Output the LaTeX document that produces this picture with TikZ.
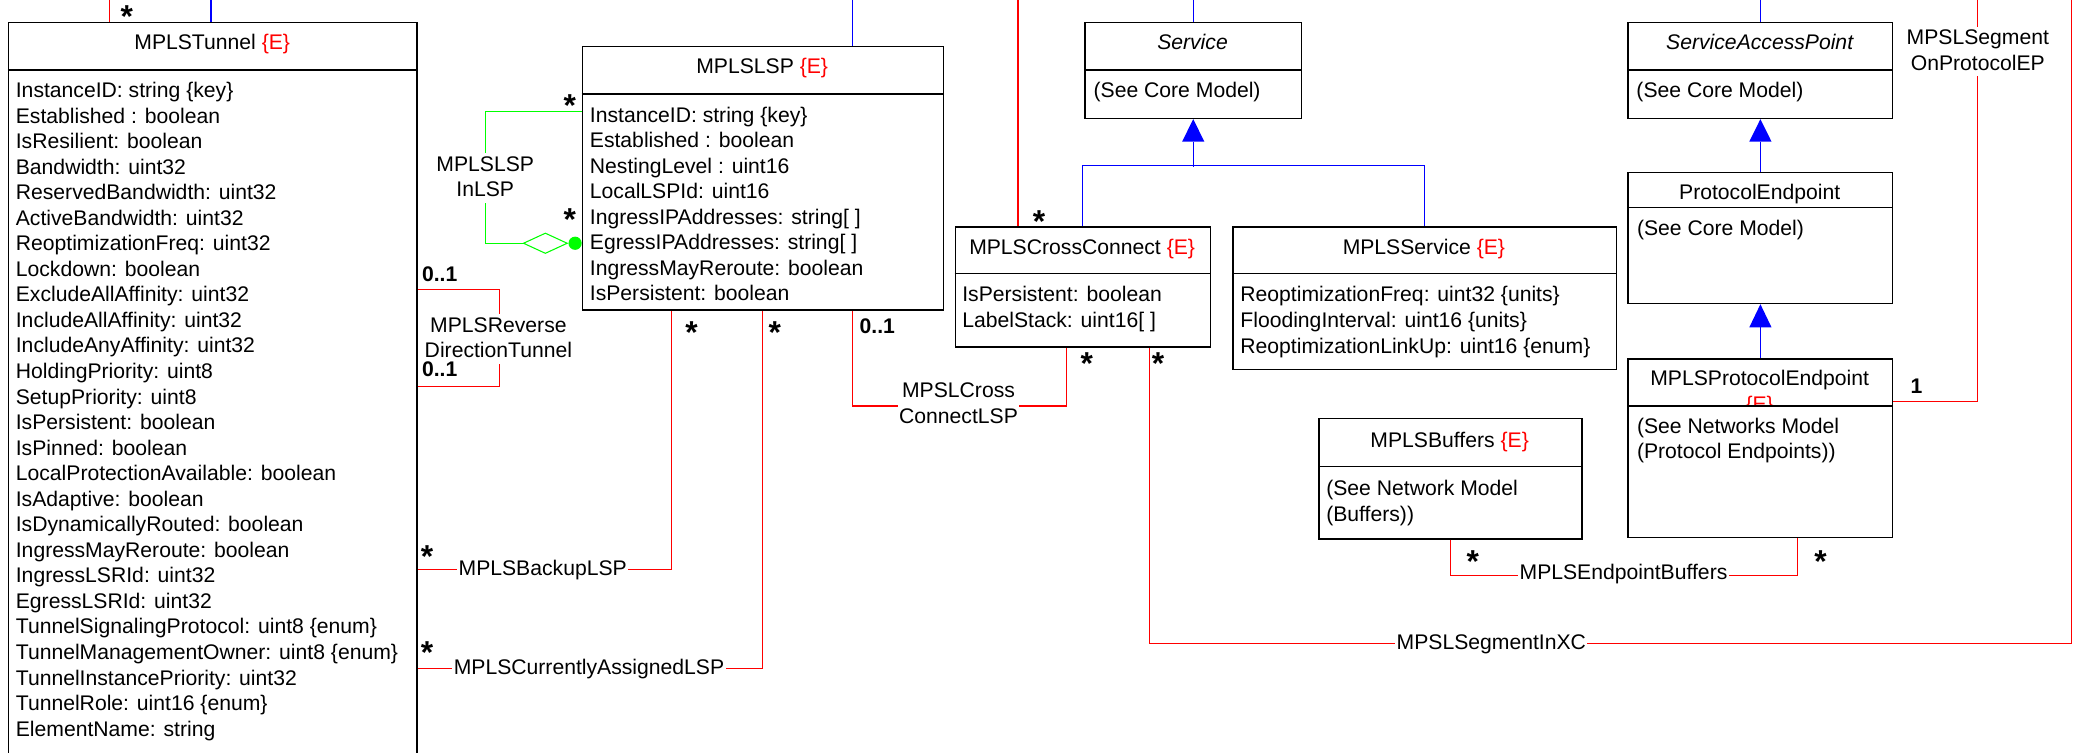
\documentclass[tikz,border=0pt]{standalone}
\usepackage{fontspec}
\setmainfont{Liberation Sans}
\usetikzlibrary{calc}
\definecolor{umlgreen}{RGB}{0,255,0}
\newcommand\redE{\textcolor{red}{\{E\}}}
\newcommand\fst{\rule{0pt}{12.5pt}}
\newcommand\lstr{\rule[-3.5pt]{0pt}{16pt}}
\begin{document}
\begin{tikzpicture}[x=1pt,y=-1pt,
  every node/.style={font=\fontsize{16}{19.32}\selectfont, inner sep=0pt},
  cls/.style={draw=black, line width=1.1pt, fill=white, anchor=north west, inner sep=0pt},
  sepl/.style={line width=1.1pt},
  attrs/.style={anchor=north west, align=left},
  ttl/.style={anchor=base, yshift=-5.6pt},
  assoc/.style={draw=red, line width=0.8pt},
  agg/.style={draw=umlgreen, line width=0.8pt},
  gen/.style={draw=blue, line width=0.8pt},
  lab/.style={fill=white, inner xsep=1pt, inner ysep=1pt, align=center},
  mult/.style={font=\fontsize{24}{24}\selectfont\bfseries, anchor=base, yshift=-13pt},
  card/.style={font=\fontsize{16}{16}\selectfont\bfseries, anchor=base west, yshift=-5.6pt},
]
\useasboundingbox (0,0) rectangle (1568,569);
\clip (0,0) rectangle (1568,569);

% ---------- classes ----------
\node[cls, minimum width=309pt, minimum height=620pt] (tunnel) at (6,16.5) {};
\draw[sepl] (tunnel.west |- 0,53) -- (tunnel.east |- 0,53);
\node[ttl] (tunnelT) at (160.5,32) {MPLSTunnel \redE};
\node[attrs] (tunnelA) at (11.8,61.1) {\fst InstanceID: string \{key\}\\
Established : boolean\\
IsResilient: boolean\\
Bandwidth: uint32\\
ReservedBandwidth: uint32\\
ActiveBandwidth: uint32\\
ReoptimizationFreq: uint32\\
Lockdown: boolean\\
ExcludeAllAffinity: uint32\\
IncludeAllAffinity: uint32\\
IncludeAnyAffinity: uint32\\
HoldingPriority: uint8\\
SetupPriority: uint8\\
IsPersistent: boolean\\
IsPinned: boolean\\
LocalProtectionAvailable: boolean\\
IsAdaptive: boolean\\
IsDynamicallyRouted: boolean\\
IngressMayReroute: boolean\\
IngressLSRId: uint32\\
EgressLSRId: uint32\\
TunnelSignalingProtocol: uint8 \{enum\}\\
TunnelManagementOwner: uint8 \{enum\}\\
TunnelInstancePriority: uint32\\
TunnelRole: uint16 \{enum\}\\
ElementName: string};

\node[cls, minimum width=273pt, minimum height=199.4pt] (lsp) at (440,34.6) {};
\draw[sepl] (lsp.west |- 0,71) -- (lsp.east |- 0,71);
\node[ttl] (lspT) at (576.5,49.7) {MPLSLSP \redE};
\node[attrs] (lspA) at (446,79.6) {\fst InstanceID: string \{key\}\\
Established : boolean\\
NestingLevel : uint16\\
LocalLSPId: uint16\\
IngressIPAddresses: string[ ]\\
EgressIPAddresses: string[ ]\\
IngressMayReroute: boolean\\
IsPersistent: boolean};

\node[cls, minimum width=164pt, minimum height=72.6pt] (service) at (820,16.4) {};
\draw[sepl] (service.west |- 0,53) -- (service.east |- 0,53);
\node[ttl] (serviceT) at (902,32) {\itshape Service};
\node[attrs] (serviceA) at (827,61.1) {\fst (See Core Model)};

\node[cls, minimum width=200pt, minimum height=72.6pt] (sap) at (1231,16.4) {};
\draw[sepl] (sap.west |- 0,53) -- (sap.east |- 0,53);
\node[ttl] (sapT) at (1331,32) {\itshape ServiceAccessPoint};
\node[attrs] (sapA) at (1237.6,61.1) {\fst (See Core Model)};

\node[cls, minimum width=200pt, minimum height=99pt] (pe) at (1231,130) {};
\draw[sepl] (pe.west |- 0,157) -- (pe.east |- 0,157);
\node[ttl] (peT) at (1331,145.5) {ProtocolEndpoint};
\node[attrs] (peA) at (1238,165.8) {\fst (See Core Model)};

\node[cls, minimum width=200pt, minimum height=135pt] (mplspe) at (1231,271) {};
\begin{scope}
  \clip (mplspe.north west) rectangle ($(mplspe.north east)+(0,36)$);
  \node[anchor=north, align=center] (mplspeT) at (1331,279.1) {\fst MPLSProtocolEndpoint\\ \redE};
\end{scope}
\draw[sepl] (mplspe.west |- 0,307) -- (mplspe.east |- 0,307);
\node[attrs] (mplspeA) at (1238,315.1) {\fst (See Networks Model\\ (Protocol Endpoints))};

\node[cls, minimum width=193pt, minimum height=91pt] (xc) at (722,171) {};
\draw[sepl] (xc.west |- 0,207) -- (xc.east |- 0,207);
\node[ttl] (xcT) at (818.5,186.6) {MPLSCrossConnect \redE};
\node[attrs] (xcA) at (727.7,215.7) {\fst IsPersistent: boolean\\ LabelStack: uint16[ ]};

\node[cls, minimum width=290pt, minimum height=108pt] (svc) at (932,171) {};
\draw[sepl] (svc.west |- 0,207) -- (svc.east |- 0,207);
\node[ttl] (svcT) at (1077,186.6) {MPLSService \redE};
\node[attrs] (svcA) at (938,215.7) {\fst ReoptimizationFreq: uint32 \{units\}\\
FloodingInterval: uint16 \{units\}\\
ReoptimizationLinkUp: uint16 \{enum\}};

\node[cls, minimum width=199pt, minimum height=91pt] (buf) at (997,316) {};
\draw[sepl] (buf.west |- 0,353) -- (buf.east |- 0,353);
\node[ttl] (bufT) at (1096.5,333) {MPLSBuffers \redE};
\node[attrs] (bufA) at (1003,362.1) {\fst (See Network Model\\ (Buffers))};

% ---------- free ends at the picture edge ----------
\coordinate (top1) at (82.6,0);
\coordinate (top2) at (159.6,0);
\coordinate (top3) at (644.5,0);
\coordinate (top4) at (770,0);
\coordinate (top7) at (1496,0);
\coordinate (top8) at (1567,0);

\draw[assoc] (top1) -- (top1 |- tunnel.north);
\draw[gen] (top2) -- (top2 |- tunnel.north);
\draw[gen] (top3) -- (top3 |- lsp.north);
\draw[assoc] (top4) -- (top4 |- xc.north);
\draw[gen] (service.north) -- (service.north |- top1);
\draw[gen] (sap.north) -- (sap.north |- top1);
\node[mult] (s0) at (96,7.6) {*};
\node[mult] (s1) at (786,163) {*};

% ---------- generalizations ----------
\fill[blue] (service.south) -- ++(-8.4,17) -- ++(16.8,0) -- cycle;
\draw[gen] ($(service.south)+(0,17)$) -- ($(service.south)+(0,36)$);
\draw[gen] (xc.north) -- ++(0,-46) -| (svc.north);
\fill[blue] (sap.south) -- ++(-8.4,17) -- ++(16.8,0) -- cycle;
\draw[gen] ($(sap.south)+(0,17)$) -- (pe.north);
\fill[blue] (pe.south) -- ++(-8.4,17.5) -- ++(16.8,0) -- cycle;
\draw[gen] ($(pe.south)+(0,17.5)$) -- (mplspe.north);

% ---------- MPLSLSPInLSP ----------
\draw[agg] ($(lsp.north west)+(0,49.4)$) -| ($(lsp.north west)+(-73,149.4)$) -- ($(lsp.north west)+(-44,149.4)$);
\draw[agg] ($(lsp.north west)+(-44,149.4)$) -- ++(16.5,-7.6) -- ++(16.5,7.6) -- ++(-16.5,7.6) -- cycle;
\fill[umlgreen] ($(lsp.north west)+(-5,149.4)$) circle (5);
\node[lab] (inlsp) at (367,134.6) {\lstr MPLSLSP\\ \lstr InLSP};
\node[mult] (s2) at (431,75) {*};
\node[mult] (s3) at (431,161) {*};

% ---------- MPLSReverseDirectionTunnel ----------
\draw[assoc] ($(tunnel.north east)+(0,202.5)$) -| ($(tunnel.north east)+(62,239)$) |- ($(tunnel.north east)+(0,275.5)$);
\node[lab] (rev) at (377,256.5) {\lstr MPLSReverse\\ \lstr DirectionTunnel};
\node[card] (c1) at (319,207) {0..1};
\node[card] (c2) at (319,279) {0..1};

% ---------- MPLSBackupLSP ----------
\draw[assoc] ($(tunnel.north east)+(0,414.5)$) -| ($(lsp.south)+(-69,0)$);
\node[lab] (backup) at (410.5,431) {\lstr MPLSBackupLSP};
\node[mult] (s4) at (323,416) {*};
\node[mult] (s5) at (523,247) {*};

% ---------- MPLSCurrentlyAssignedLSP ----------
\draw[assoc] ($(tunnel.north east)+(0,489.5)$) -| ($(lsp.south)+(-0.5,0)$);
\node[lab] (curr) at (445.5,506) {\lstr MPLSCurrentlyAssignedLSP};
\node[mult] (s6) at (323,489) {*};
\node[mult] (s7) at (586,247) {*};

% ---------- MPSLCrossConnectLSP ----------
\draw[assoc] ($(lsp.south)+(68,0)$) |- ($(xc.south)+(-12.5,44)$) -- ($(xc.south)+(-12.5,0)$);
\node[lab] (xclsp) at (725,306) {\lstr MPSLCross\\ \lstr ConnectLSP};
\node[card] (c3) at (650,247) {0..1};
\node[mult] (s8) at (822,270) {*};

% ---------- MPSLSegmentInXC ----------
\draw[assoc] ($(xc.south)+(50.5,0)$) |- (top8 |- 0,487) -- (top8);
\node[lab] (segxc) at (1128,487) {\lstr MPSLSegmentInXC};
\node[mult] (s9) at (876,270) {*};

% ---------- MPSLSegmentOnProtocolEP ----------
\draw[assoc] (top7) |- ($(mplspe.north east)+(0,33)$);
\node[lab] (segpe) at (1496,38.8) {\lstr MPSLSegment\\ \lstr OnProtocolEP};
\node[card] (c4) at (1445,292) {1};

% ---------- MPLSEndpointBuffers ----------
\draw[assoc] (buf.south) |- ($(mplspe.south)+(28,28)$) -- ($(mplspe.south)+(28,0)$);
\node[lab] (epbuf) at (1228,434) {\lstr MPLSEndpointBuffers};
\node[mult] (s10) at (1114,420) {*};
\node[mult] (s11) at (1377,420) {*};
\end{tikzpicture}
\end{document}
